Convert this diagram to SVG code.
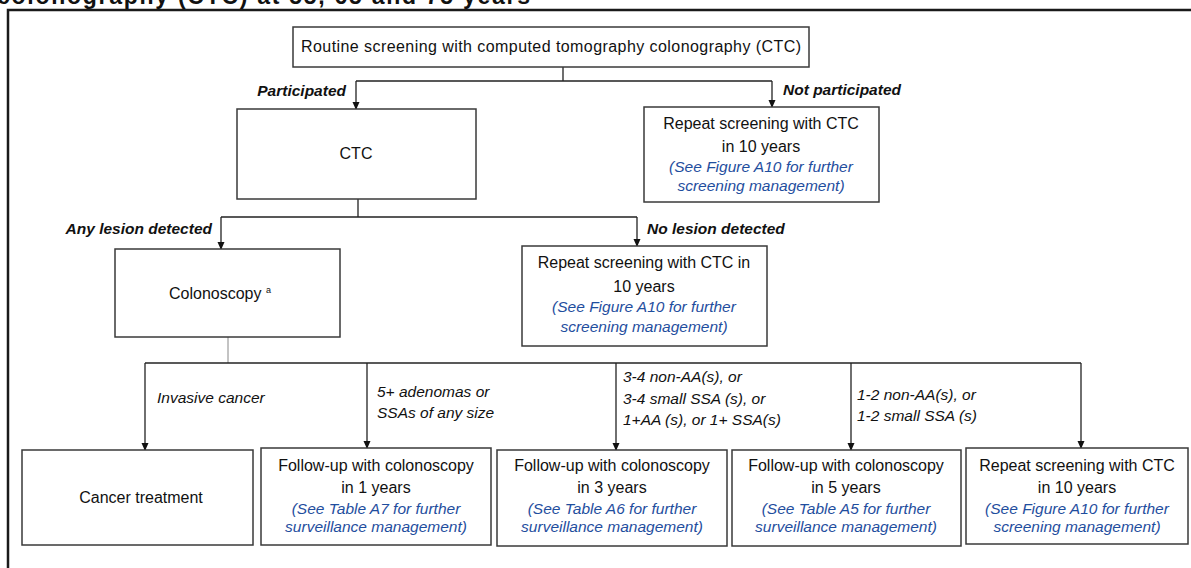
<svg xmlns="http://www.w3.org/2000/svg" width="1191" height="568" viewBox="0 0 1191 568">
<defs>
<marker id="arr" markerWidth="8" markerHeight="8" refX="7" refY="4" orient="auto" markerUnits="userSpaceOnUse">
<path d="M0,0.5 L8,4 L0,7.5 Z" fill="#111"/>
</marker>
<style>
.box{fill:#fff;stroke:#3a3a3a;stroke-width:1.5}
.t{font-family:"Liberation Sans",Arial,sans-serif;font-size:16px;fill:#111;text-anchor:middle}
.b{font-family:"Liberation Sans",Arial,sans-serif;font-size:15.5px;fill:#1f4e9e;font-style:italic;text-anchor:middle}
.lb{font-family:"Liberation Sans",Arial,sans-serif;font-size:15.5px;fill:#111;font-style:italic;font-weight:bold}
.li{font-family:"Liberation Sans",Arial,sans-serif;font-size:15.5px;fill:#111;font-style:italic}
.c{fill:none;stroke:#222;stroke-width:1.3}
.ca{fill:none;stroke:#222;stroke-width:1.3;marker-end:url(#arr)}
</style>
</defs>
<rect width="1191" height="568" fill="#fff"/>
<text x="-3" y="4" font-family="Liberation Sans,Arial,sans-serif" font-size="23" font-weight="bold" fill="#111" textLength="533">colonography (CTC) at 55, 65 and 75 years</text>
<path d="M8,568 V10 H1191" fill="none" stroke="#1a1a1a" stroke-width="2.5"/>

<g id="connectors">
<path class="c" d="M563,67 V81 M356,81 H772"/>
<path class="ca" d="M356,81 V109"/>
<path class="ca" d="M772,81 V107"/>
<path class="c" d="M358,199 V217 M221,217 H637"/>
<path class="ca" d="M221,217 V249"/>
<path class="ca" d="M637,217 V246"/>
<path d="M228,337 V363" fill="none" stroke="#888" stroke-width="1"/>
<path class="c" d="M145,363 H1081"/>
<path class="ca" d="M145,363 V450"/>
<path class="ca" d="M367,363 V448"/>
<path class="ca" d="M616,363 V450"/>
<path class="ca" d="M851,363 V450"/>
<path class="ca" d="M1081,363 V448"/>
<text class="lb" x="346" y="96" text-anchor="end">Participated</text>
<text class="lb" x="783" y="95">Not participated</text>
<text class="lb" x="212" y="234" text-anchor="end">Any lesion detected</text>
<text class="lb" x="647" y="234">No lesion detected</text>
<text class="li" x="157" y="403">Invasive cancer</text>
<text class="li" x="377" y="397">5+ adenomas or</text>
<text class="li" x="377" y="418">SSAs of any size</text>
<text class="li" x="623" y="382">3-4 non-AA(s), or</text>
<text class="li" x="623" y="404">3-4 small SSA (s), or</text>
<text class="li" x="623" y="425">1+AA (s), or 1+ SSA(s)</text>
<text class="li" x="857" y="400">1-2 non-AA(s), or</text>
<text class="li" x="857" y="421">1-2 small SSA (s)</text>
</g>

<g id="n-top">
<rect class="box" x="293" y="27" width="516" height="40"/>
<text class="t" x="551" y="52" textLength="500">Routine screening with computed tomography colonography (CTC)</text>
</g>
<g id="n-ctc">
<rect class="box" x="237" y="109" width="239" height="90"/>
<text class="t" x="356" y="159">CTC</text>
</g>
<g id="n-notpart">
<rect class="box" x="644" y="107" width="235" height="95"/>
<text class="t" x="761" y="129">Repeat screening with CTC</text>
<text class="t" x="761" y="152">in 10 years</text>
<text class="b" x="761" y="172">(See Figure A10 for further</text>
<text class="b" x="761" y="191">screening management)</text>
</g>
<g id="n-colonoscopy">
<rect class="box" x="115" y="249" width="225" height="88"/>
<text class="t" x="220" y="299">Colonoscopy <tspan font-size="9" dy="-6">a</tspan></text>
</g>
<g id="n-nolesion">
<rect class="box" x="522" y="246" width="245" height="100"/>
<text class="t" x="644" y="268">Repeat screening with CTC in</text>
<text class="t" x="644" y="292">10 years</text>
<text class="b" x="644" y="312">(See Figure A10 for further</text>
<text class="b" x="644" y="332">screening management)</text>
</g>
<g id="n-cancer">
<rect class="box" x="22" y="450" width="231" height="95"/>
<text class="t" x="141" y="503">Cancer treatment</text>
</g>
<g id="n-fu1">
<rect class="box" x="261" y="448" width="230" height="97"/>
<text class="t" x="376" y="471">Follow-up with colonoscopy</text>
<text class="t" x="376" y="493">in 1 years</text>
<text class="b" x="376" y="514">(See Table A7 for further</text>
<text class="b" x="376" y="532">surveillance management)</text>
</g>
<g id="n-fu3">
<rect class="box" x="497" y="450" width="230" height="96"/>
<text class="t" x="612" y="471">Follow-up with colonoscopy</text>
<text class="t" x="612" y="493">in 3 years</text>
<text class="b" x="612" y="514">(See Table A6 for further</text>
<text class="b" x="612" y="532">surveillance management)</text>
</g>
<g id="n-fu5">
<rect class="box" x="732" y="450" width="229" height="96"/>
<text class="t" x="846" y="471">Follow-up with colonoscopy</text>
<text class="t" x="846" y="493">in 5 years</text>
<text class="b" x="846" y="514">(See Table A5 for further</text>
<text class="b" x="846" y="532">surveillance management)</text>
</g>
<g id="n-rep10">
<rect class="box" x="966" y="448" width="222" height="96"/>
<text class="t" x="1077" y="471">Repeat screening with CTC</text>
<text class="t" x="1077" y="493">in 10 years</text>
<text class="b" x="1077" y="514">(See Figure A10 for further</text>
<text class="b" x="1077" y="532">screening management)</text>
</g>
</svg>
